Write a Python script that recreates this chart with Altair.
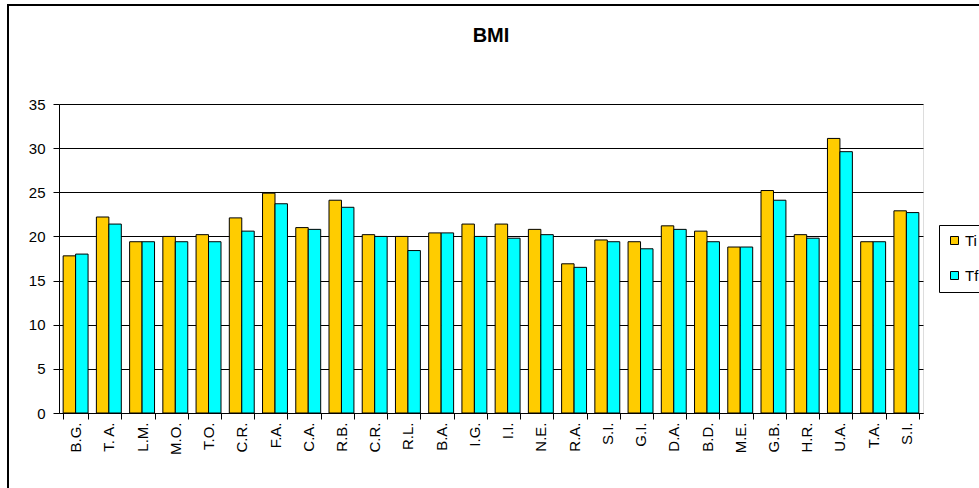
import altair as alt
import pandas as pd
import json

categories = ["B.G.", "T. A.", "L.M.", "M.O.", "T.O.", "C.R.", "F.A.", "C.A.", "R.B.",
              "C.R.", "R.L.", "B.A.", "I.G.", "I.I.", "N.E.", "R.A.", "S.I.", "G.I.",
              "D.A.", "B.D.", "M.E.", "G.B.", "H.R.", "U.A.", "T.A.", "S.I."]
ti = [17.8, 22.2, 19.4, 20.0, 20.2, 22.1, 24.9, 21.0, 24.1,
      20.2, 20.0, 20.4, 21.4, 21.4, 20.8, 16.9, 19.6, 19.4,
      21.2, 20.6, 18.8, 25.2, 20.2, 31.1, 19.4, 22.9]
tf = [18.0, 21.4, 19.4, 19.4, 19.4, 20.6, 23.7, 20.8, 23.3,
      20.0, 18.4, 20.4, 20.0, 19.8, 20.2, 16.5, 19.4, 18.6,
      20.8, 19.4, 18.8, 24.1, 19.8, 29.6, 19.4, 22.7]
series = ["Ti", "Tf"]
colors = ["#FFCC00", "#00FFFF"]
title_text = "BMI"

rows = []
for i, c in enumerate(categories):
    rows.append({"idx": i, "cat": c, "serie": "Ti", "val": ti[i]})
    rows.append({"idx": i, "cat": c, "serie": "Tf", "val": tf[i]})
df = pd.DataFrame(rows)

FONT = "Liberation Sans"
label_expr = json.dumps(categories) + "[datum.value]"

bars = alt.Chart(df).mark_bar(stroke="black", strokeWidth=1).encode(
    x=alt.X("idx:O", title=None,
            scale=alt.Scale(paddingInner=0.25, paddingOuter=0.125),
            axis=alt.Axis(labelExpr=label_expr, labelAngle=-90, labelFont=FONT,
                          labelFontSize=15, labelColor="black", labelPadding=3,
                          tickBand="extent", tickColor="black", tickSize=6,
                          domainColor="black", grid=False)),
    xOffset=alt.XOffset("serie:N", sort=series),
    y=alt.Y("val:Q", title=None,
            scale=alt.Scale(domain=[0, 35], nice=False),
            axis=alt.Axis(values=[0, 5, 10, 15, 20, 25, 30, 35], labelFont=FONT,
                          labelFontSize=15, labelColor="black", labelPadding=8,
                          tickColor="black", tickSize=6, domainColor="black",
                          grid=True, gridColor="black", gridWidth=1)),
    color=alt.Color("serie:N", sort=series,
                    scale=alt.Scale(domain=series, range=colors),
                    legend=alt.Legend(title=None, orient="none", legendX=880, legendY=121,
                                      symbolType="square", symbolSize=64,
                                      symbolStrokeColor="black", symbolStrokeWidth=1,
                                      labelFont=FONT, labelFontSize=15, labelColor="black",
                                      strokeColor="black", padding=8, rowPadding=19,
                                      labelOffset=3)),
)

border = alt.Chart(alt.Data(values=[{}])).mark_rect(
    fill=None, stroke="black", strokeWidth=2
).encode(
    x=alt.value(-51), x2=alt.value(1000), y=alt.value(-99), y2=alt.value(420)
)

title = alt.Chart(alt.Data(values=[{"t": title_text}])).mark_text(
    font=FONT, fontSize=20, fontWeight="bold", color="black",
    align="center", baseline="middle"
).encode(
    text="t:N", x=alt.value(432), y=alt.value(-68)
)

chart = alt.layer(border, bars, title).properties(
    width=864, height=309,
    autosize=alt.AutoSizeParams(type="none"),
    padding={"left": 59, "top": 104, "right": 56, "bottom": 75},
).configure_view(
    stroke="#808080", strokeWidth=1
).configure(background="white")

chart.save("out.html", embed_options={"renderer": "svg", "actions": False})
